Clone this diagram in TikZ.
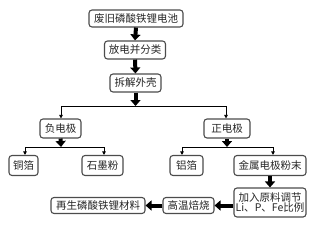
\documentclass[tikz,border=0pt]{standalone}
\usepackage{fontspec}
\newfontfamily\cjk{Noto Sans CJK SC}
\usetikzlibrary{arrows.meta}
\begin{document}
\begin{tikzpicture}[x=1pt,y=-1pt,
  box/.style={draw=black!70, line width=1.1pt, rounded corners=3pt, fill=white,
    inner sep=0pt, font=\cjk\fontsize{10.5}{11}\selectfont, text=black!85},
  thick arrow/.style={line width=4pt, draw=black, -{Triangle[width=10pt,length=6pt]}},
  thin arrow/.style={line width=0.7pt, draw=black, -{Triangle[width=3.5pt,length=3.5pt]}},
  thin line/.style={line width=0.7pt, draw=black}]
\useasboundingbox (0,0) rectangle (320,230);
\node[box, minimum width=94pt, minimum height=17pt] (b1) at (136,18.5) {废旧磷酸铁锂电池};
\node[box, minimum width=61pt, minimum height=18pt] (b2) at (135,50) {放电并分类};
\node[box, minimum width=51pt, minimum height=18pt] (b3) at (135.5,83) {拆解外壳};
\node[box, minimum width=41pt, minimum height=19pt] (b4) at (60.5,128.5) {负电极};
\node[box, minimum width=46pt, minimum height=19pt] (b5) at (227,128.5) {正电极};
\node[box, minimum width=29pt, minimum height=20pt] (b6) at (23.5,165.5) {铜箔};
\node[box, minimum width=41pt, minimum height=20pt] (b7) at (102.5,165.5) {石墨粉};
\node[box, minimum width=33pt, minimum height=20pt] (b8) at (186.5,165.5) {铝箔};
\node[box, minimum width=72pt, minimum height=20pt] (b9) at (270,165.5) {金属电极粉末};
\node[box, minimum width=72pt, minimum height=29pt, align=center] (b10) at (270,202.5)
  {加入原料调节\\[-1pt]Li、P、Fe比例};
\node[box, minimum width=51pt, minimum height=16pt] (b11) at (188.5,205.5) {高温焙烧};
\node[box, minimum width=94pt, minimum height=16pt] (b12) at (98,205.5) {再生磷酸铁锂材料};
% connectors
\draw[thick arrow] (b1.south) -- (b2.north);
\draw[thick arrow] (b2.south) -- (b3.north);
\coordinate (s1) at (135.5,106);
\coordinate (l1) at (61,106);
\coordinate (r1) at (226,106);
\draw[thick arrow] (b3.south) -- (s1);
\draw[thin line] (l1) -- (r1);
\draw[thin arrow] (l1) -- (l1 |- b4.north);
\draw[thin arrow] (r1) -- (r1 |- b5.north);
\coordinate (s2) at (61,147);
\coordinate (l2) at (25,147);
\coordinate (r2) at (104,147);
\draw[thick arrow] (b4.south) -- (s2);
\draw[thin line] (l2) -- (r2);
\draw[thin arrow] (l2) -- (l2 |- b6.north);
\draw[thin arrow] (r2) -- (r2 |- b7.north);
\coordinate (s3) at (227,147);
\coordinate (l3) at (182,147);
\coordinate (r3) at (273,147);
\draw[thick arrow] (b5.south) -- (s3);
\draw[thin line] (l3) -- (r3);
\draw[thin arrow] (l3) -- (l3 |- b8.north);
\draw[thin arrow] (r3) -- (r3 |- b9.north);
\draw[thick arrow] (b9.south) -- (b10.north);
\draw[thick arrow] (b10.west |- b11.east) -- (b11.east);
\draw[thick arrow] (b11.west) -- (b12.east);
\end{tikzpicture}
\end{document}
